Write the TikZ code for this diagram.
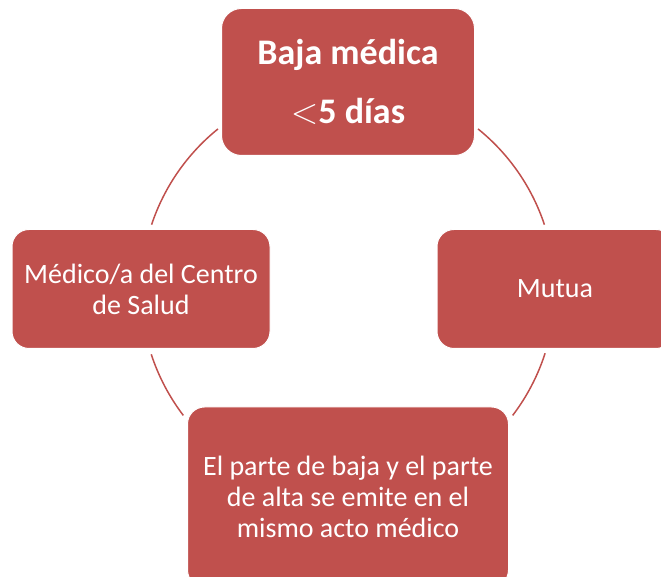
\documentclass[tikz,border=0pt]{standalone}
\usepackage{graphicx}
\usepackage{fontspec}
\setmainfont{Carlito}
\usetikzlibrary{positioning}
\definecolor{bajared}{HTML}{C0504D}

\begin{document}
\begin{tikzpicture}[x=1pt,y=1pt,
	box/.style={rectangle, rounded corners=17pt, draw=white, line width=1pt, fill=bajared,
		text=white, align=center, inner sep=0pt, font=\fontsize{28}{31}\selectfont},
	ring/.style={draw=bajared, line width=1.5pt}]
	\useasboundingbox (0,0) rectangle (661,577);
	
	\coordinate (ctr) at (348,287);
	\def\R{207pt}
	
	% arcs of the cycle
	\foreach \a/\b in {51.1/18.4, -17.8/-37.3, 217.3/198.1, 161.6/128.9}
		\draw[ring] ([shift={(\a:\R)}]ctr) arc[start angle=\a, end angle=\b, radius=\R];
	
	\node[box, minimum width=253pt, minimum height=147pt, rounded corners=20pt,
		font=\fontsize{36}{59}\selectfont\bfseries] (1) at (348,495)
		{Baja médica\\{\mdseries\fontsize{24}{24}\selectfont\scalebox{1.45}{$<$}}5 días};
	\node[box, minimum width=236pt, minimum height=119pt] (2) at (555,288) {Mutua};
	\node[box, minimum width=321pt, minimum height=180pt] (3) at (348,80)
		{El parte de baja y el parte\\de alta se emite en el\\mismo acto médico};
	\node[box, minimum width=258pt, minimum height=119pt] (4) at (141,288) {Médico/a del Centro\\de Salud};
\end{tikzpicture}
\end{document}
